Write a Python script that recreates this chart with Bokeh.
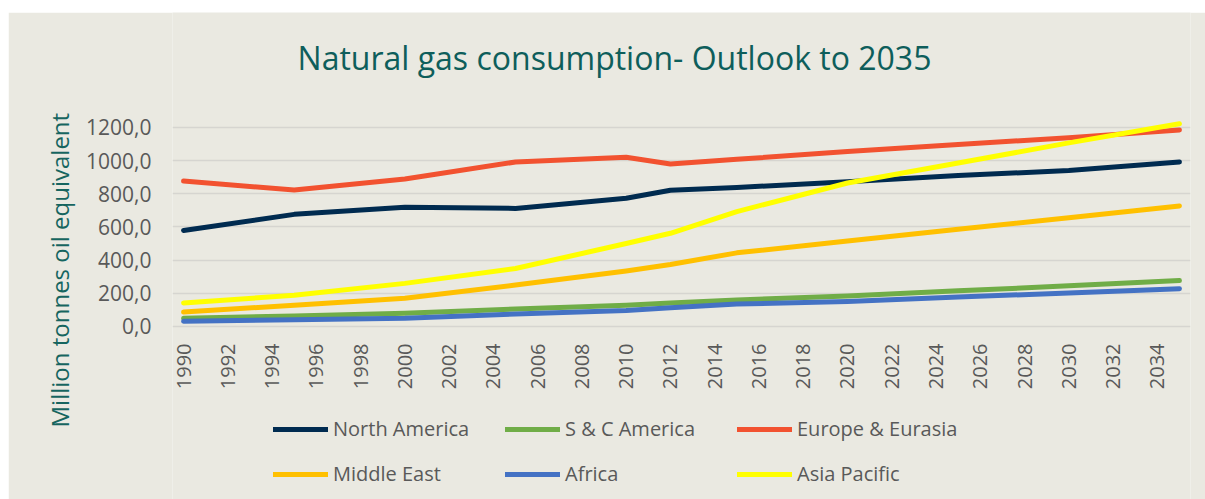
import math
from bokeh.plotting import figure
from bokeh.models import (Range1d, FixedTicker, Legend, LegendItem, Title, Label, Spacer)
from bokeh.core.properties import value
from bokeh.layouts import column, row
from bokeh.embed import file_html
from bokeh.resources import INLINE

# ---- data ----
years = [1990, 1995, 2000, 2005, 2010, 2012, 2015, 2020, 2025, 2030, 2035]
north_america = [579, 676, 719, 712, 773, 821, 838, 872, 910, 940, 992]
s_c_america = [50, 64, 80, 105, 128, 142, 160, 184, 215, 245, 277]
europe_eurasia = [877, 823, 889, 992, 1020, 980, 1008, 1055, 1097, 1138, 1185]
middle_east = [87, 128, 170, 250, 335, 374, 444, 515, 586, 656, 727]
africa = [32, 40, 50, 75, 97, 113, 135, 151, 178, 202, 228]
asia_pacific = [142, 188, 260, 350, 500, 562, 693, 865, 986, 1107, 1222]

series_names = ["North America", "S & C America", "Europe & Eurasia",
                "Middle East", "Africa", "Asia Pacific"]
series_values = [north_america, s_c_america, europe_eurasia,
                 middle_east, africa, asia_pacific]
series_colors = ["#002B50", "#70AD47", "#F25230", "#FFC000", "#4472C4", "#FFFF00"]

y_ticks = [0, 200, 400, 600, 800, 1000, 1200]
y_tick_labels = ["0,0", "200,0", "400,0", "600,0", "800,0", "1000,0", "1200,0"]
x_ticks = list(range(1990, 2035, 2))
x_tick_labels = [str(t) for t in x_ticks]

title_text = "Natural gas consumption- Outlook to 2035"
y_label_text = "Million tonnes oil equivalent"

BG = "#EAE9E1"
TXT = "#595959"
TEAL = "#0E5E5B"
FONT = "Open Sans"

# frame spans the whole height; plot area (0..1230) occupies its upper part
p = figure(width=1197, height=487, output_backend="svg", toolbar_location=None,
           x_range=Range1d(1989.5, 2035.5), y_range=Range1d(-1043, 1893),
           x_axis_location=None,
           min_border_left=164, min_border_right=15, min_border_top=0,
           min_border_bottom=0)
p.background_fill_color = BG
p.border_fill_color = BG
p.outline_line_color = None

# grid
p.xgrid.grid_line_color = None
p.ygrid.grid_line_color = "#D6D5D0"
p.ygrid.grid_line_width = 1.5
p.ygrid.ticker = FixedTicker(ticks=y_ticks)

# y axis
p.yaxis.ticker = FixedTicker(ticks=y_ticks)
p.yaxis.major_label_overrides = {t: l for t, l in zip(y_ticks, y_tick_labels)}
p.yaxis.axis_line_color = None
p.yaxis.major_tick_line_color = None
p.yaxis.minor_tick_line_color = None
p.yaxis.major_tick_out = 0
p.yaxis.major_label_standoff = 21
p.yaxis.major_label_text_font = FONT
p.yaxis.major_label_text_font_size = "21px"
p.yaxis.major_label_text_color = TXT

# x tick labels (vertical, reading upward) placed just under the value 0
p.text(x=x_ticks, y=[0] * len(x_ticks), text=x_tick_labels, angle=math.pi / 2,
       text_align="right", text_baseline="middle", y_offset=17,
       text_font=value(FONT), text_font_size="20px", text_color=TXT)

renderers = []
for name, vals, col in zip(series_names, series_values, series_colors):
    r = p.line(years, vals, line_color=col, line_width=5,
               line_cap="round", line_join="round")
    renderers.append(r)

# chart title
p.add_layout(Label(x=442, y=442, x_units="screen", y_units="screen",
                   text=title_text, text_align="center", text_baseline="alphabetic",
                   text_font=FONT, text_font_size="32px", text_color=TEAL))

# y-axis title on the left side
ylab = Title(text=y_label_text, align="left", offset=72, standoff=16,
             text_font=FONT, text_font_size="24px", text_font_style="normal",
             text_color="#16655F")
p.add_layout(ylab, "left")

# legend: three columns of two rows
for c in range(3):
    items = [LegendItem(label=series_names[c], renderers=[renderers[c]]),
             LegendItem(label=series_names[c + 3], renderers=[renderers[c + 3]])]
    lg = Legend(items=items, location=(101 + 232 * c, 12),
                orientation="vertical", padding=0, margin=0, spacing=18,
                glyph_width=55, glyph_height=26, label_height=26,
                label_standoff=5, border_line_color=None,
                background_fill_alpha=0,
                label_text_font=FONT, label_text_font_size="20px",
                label_text_color=TXT)
    p.add_layout(lg, "center")

layout = row(Spacer(width=8), column(Spacer(height=12), p))
open("out.html", "w").write(file_html(layout, INLINE))
